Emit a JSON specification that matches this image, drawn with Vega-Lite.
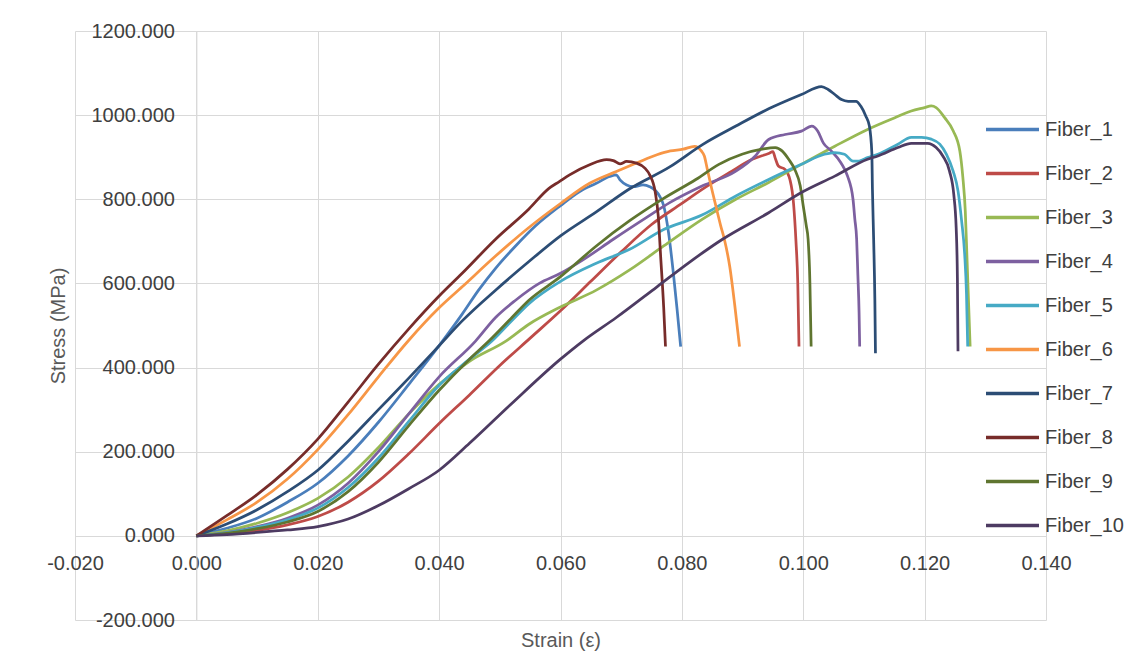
{
"$schema": "https://vega.github.io/schema/vega-lite/v6.json",
"width": 971, "height": 589,
"autosize": {"type": "none"},
"padding": {"left": 75, "top": 31, "right": 86, "bottom": 37},
"background": "white",
"config": {"view": {"stroke": null}, "font": "Liberation Sans"},
"data": {"values": [
{"fiber":"Fiber_1","strain":0,"stress":0},{"fiber":"Fiber_1","strain":0.005,"stress":18},{"fiber":"Fiber_1","strain":0.01,"stress":42},{"fiber":"Fiber_1","strain":0.015,"stress":80},{"fiber":"Fiber_1","strain":0.02,"stress":125},{"fiber":"Fiber_1","strain":0.025,"stress":190},{"fiber":"Fiber_1","strain":0.03,"stress":270},{"fiber":"Fiber_1","strain":0.035,"stress":360},{"fiber":"Fiber_1","strain":0.04,"stress":452},{"fiber":"Fiber_1","strain":0.0438,"stress":527},{"fiber":"Fiber_1","strain":0.0465,"stress":584},{"fiber":"Fiber_1","strain":0.0493,"stress":636},{"fiber":"Fiber_1","strain":0.0526,"stress":689},{"fiber":"Fiber_1","strain":0.0559,"stress":737},{"fiber":"Fiber_1","strain":0.06,"stress":785},{"fiber":"Fiber_1","strain":0.0631,"stress":818},{"fiber":"Fiber_1","strain":0.0659,"stress":838},{"fiber":"Fiber_1","strain":0.0681,"stress":854},{"fiber":"Fiber_1","strain":0.0692,"stress":858},{"fiber":"Fiber_1","strain":0.0698,"stress":846},{"fiber":"Fiber_1","strain":0.0709,"stress":834},{"fiber":"Fiber_1","strain":0.072,"stress":830},{"fiber":"Fiber_1","strain":0.0736,"stress":834},{"fiber":"Fiber_1","strain":0.0747,"stress":830},{"fiber":"Fiber_1","strain":0.0764,"stress":806},{"fiber":"Fiber_1","strain":0.077,"stress":785},{"fiber":"Fiber_1","strain":0.0778,"stress":721},{"fiber":"Fiber_1","strain":0.0786,"stress":624},{"fiber":"Fiber_1","strain":0.0792,"stress":540},{"fiber":"Fiber_1","strain":0.0798,"stress":450},
{"fiber":"Fiber_2","strain":0,"stress":0},{"fiber":"Fiber_2","strain":0.005,"stress":5},{"fiber":"Fiber_2","strain":0.01,"stress":13},{"fiber":"Fiber_2","strain":0.015,"stress":26},{"fiber":"Fiber_2","strain":0.02,"stress":46},{"fiber":"Fiber_2","strain":0.025,"stress":80},{"fiber":"Fiber_2","strain":0.03,"stress":130},{"fiber":"Fiber_2","strain":0.035,"stress":195},{"fiber":"Fiber_2","strain":0.04,"stress":267},{"fiber":"Fiber_2","strain":0.045,"stress":335},{"fiber":"Fiber_2","strain":0.05,"stress":405},{"fiber":"Fiber_2","strain":0.055,"stress":470},{"fiber":"Fiber_2","strain":0.06,"stress":535},{"fiber":"Fiber_2","strain":0.065,"stress":605},{"fiber":"Fiber_2","strain":0.07,"stress":675},{"fiber":"Fiber_2","strain":0.075,"stress":740},{"fiber":"Fiber_2","strain":0.08,"stress":790},{"fiber":"Fiber_2","strain":0.0834,"stress":824},{"fiber":"Fiber_2","strain":0.0878,"stress":863},{"fiber":"Fiber_2","strain":0.0916,"stress":895},{"fiber":"Fiber_2","strain":0.0943,"stress":909},{"fiber":"Fiber_2","strain":0.095,"stress":913},{"fiber":"Fiber_2","strain":0.0954,"stress":897},{"fiber":"Fiber_2","strain":0.0959,"stress":879},{"fiber":"Fiber_2","strain":0.097,"stress":871},{"fiber":"Fiber_2","strain":0.0978,"stress":847},{"fiber":"Fiber_2","strain":0.0984,"stress":790},{"fiber":"Fiber_2","strain":0.0988,"stress":700},{"fiber":"Fiber_2","strain":0.0991,"stress":600},{"fiber":"Fiber_2","strain":0.0993,"stress":450},
{"fiber":"Fiber_3","strain":0,"stress":0},{"fiber":"Fiber_3","strain":0.005,"stress":12},{"fiber":"Fiber_3","strain":0.01,"stress":30},{"fiber":"Fiber_3","strain":0.015,"stress":55},{"fiber":"Fiber_3","strain":0.02,"stress":89},{"fiber":"Fiber_3","strain":0.025,"stress":140},{"fiber":"Fiber_3","strain":0.03,"stress":210},{"fiber":"Fiber_3","strain":0.035,"stress":290},{"fiber":"Fiber_3","strain":0.04,"stress":360},{"fiber":"Fiber_3","strain":0.045,"stress":415},{"fiber":"Fiber_3","strain":0.051,"stress":463},{"fiber":"Fiber_3","strain":0.0548,"stress":503},{"fiber":"Fiber_3","strain":0.06,"stress":544},{"fiber":"Fiber_3","strain":0.0659,"stress":584},{"fiber":"Fiber_3","strain":0.0714,"stress":632},{"fiber":"Fiber_3","strain":0.077,"stress":689},{"fiber":"Fiber_3","strain":0.0834,"stress":753},{"fiber":"Fiber_3","strain":0.0889,"stress":800},{"fiber":"Fiber_3","strain":0.0943,"stress":840},{"fiber":"Fiber_3","strain":0.0997,"stress":883},{"fiber":"Fiber_3","strain":0.1052,"stress":926},{"fiber":"Fiber_3","strain":0.1106,"stress":966},{"fiber":"Fiber_3","strain":0.1151,"stress":994},{"fiber":"Fiber_3","strain":0.1178,"stress":1010},{"fiber":"Fiber_3","strain":0.12,"stress":1018},{"fiber":"Fiber_3","strain":0.1211,"stress":1022},{"fiber":"Fiber_3","strain":0.1219,"stress":1018},{"fiber":"Fiber_3","strain":0.1233,"stress":994},{"fiber":"Fiber_3","strain":0.1247,"stress":963},{"fiber":"Fiber_3","strain":0.1258,"stress":915},{"fiber":"Fiber_3","strain":0.1263,"stress":852},{"fiber":"Fiber_3","strain":0.1267,"stress":772},{"fiber":"Fiber_3","strain":0.127,"stress":653},{"fiber":"Fiber_3","strain":0.1273,"stress":530},{"fiber":"Fiber_3","strain":0.1275,"stress":450},
{"fiber":"Fiber_4","strain":0,"stress":0},{"fiber":"Fiber_4","strain":0.005,"stress":8},{"fiber":"Fiber_4","strain":0.01,"stress":22},{"fiber":"Fiber_4","strain":0.015,"stress":42},{"fiber":"Fiber_4","strain":0.02,"stress":73},{"fiber":"Fiber_4","strain":0.025,"stress":125},{"fiber":"Fiber_4","strain":0.03,"stress":200},{"fiber":"Fiber_4","strain":0.035,"stress":290},{"fiber":"Fiber_4","strain":0.04,"stress":378},{"fiber":"Fiber_4","strain":0.046,"stress":463},{"fiber":"Fiber_4","strain":0.0493,"stress":519},{"fiber":"Fiber_4","strain":0.0526,"stress":560},{"fiber":"Fiber_4","strain":0.0565,"stress":600},{"fiber":"Fiber_4","strain":0.06,"stress":624},{"fiber":"Fiber_4","strain":0.0637,"stress":656},{"fiber":"Fiber_4","strain":0.0687,"stress":705},{"fiber":"Fiber_4","strain":0.0742,"stress":757},{"fiber":"Fiber_4","strain":0.078,"stress":792},{"fiber":"Fiber_4","strain":0.0834,"stress":832},{"fiber":"Fiber_4","strain":0.0889,"stress":867},{"fiber":"Fiber_4","strain":0.0921,"stress":903},{"fiber":"Fiber_4","strain":0.0943,"stress":942},{"fiber":"Fiber_4","strain":0.097,"stress":954},{"fiber":"Fiber_4","strain":0.0997,"stress":962},{"fiber":"Fiber_4","strain":0.1014,"stress":974},{"fiber":"Fiber_4","strain":0.1024,"stress":962},{"fiber":"Fiber_4","strain":0.1033,"stress":934},{"fiber":"Fiber_4","strain":0.1046,"stress":915},{"fiber":"Fiber_4","strain":0.1062,"stress":887},{"fiber":"Fiber_4","strain":0.1073,"stress":855},{"fiber":"Fiber_4","strain":0.1082,"stress":800},{"fiber":"Fiber_4","strain":0.1085,"stress":753},{"fiber":"Fiber_4","strain":0.1088,"stress":705},{"fiber":"Fiber_4","strain":0.109,"stress":620},{"fiber":"Fiber_4","strain":0.1092,"stress":530},{"fiber":"Fiber_4","strain":0.1093,"stress":450},
{"fiber":"Fiber_5","strain":0,"stress":0},{"fiber":"Fiber_5","strain":0.005,"stress":7},{"fiber":"Fiber_5","strain":0.01,"stress":20},{"fiber":"Fiber_5","strain":0.015,"stress":38},{"fiber":"Fiber_5","strain":0.02,"stress":66},{"fiber":"Fiber_5","strain":0.025,"stress":115},{"fiber":"Fiber_5","strain":0.03,"stress":185},{"fiber":"Fiber_5","strain":0.035,"stress":272},{"fiber":"Fiber_5","strain":0.04,"stress":358},{"fiber":"Fiber_5","strain":0.045,"stress":420},{"fiber":"Fiber_5","strain":0.0487,"stress":463},{"fiber":"Fiber_5","strain":0.052,"stress":512},{"fiber":"Fiber_5","strain":0.0548,"stress":552},{"fiber":"Fiber_5","strain":0.06,"stress":605},{"fiber":"Fiber_5","strain":0.0659,"stress":648},{"fiber":"Fiber_5","strain":0.0714,"stress":681},{"fiber":"Fiber_5","strain":0.077,"stress":728},{"fiber":"Fiber_5","strain":0.0834,"stress":763},{"fiber":"Fiber_5","strain":0.0889,"stress":808},{"fiber":"Fiber_5","strain":0.0943,"stress":847},{"fiber":"Fiber_5","strain":0.0997,"stress":883},{"fiber":"Fiber_5","strain":0.1035,"stress":907},{"fiber":"Fiber_5","strain":0.1052,"stress":911},{"fiber":"Fiber_5","strain":0.1068,"stress":907},{"fiber":"Fiber_5","strain":0.1082,"stress":891},{"fiber":"Fiber_5","strain":0.1092,"stress":891},{"fiber":"Fiber_5","strain":0.1106,"stress":899},{"fiber":"Fiber_5","strain":0.1123,"stress":907},{"fiber":"Fiber_5","strain":0.1156,"stress":931},{"fiber":"Fiber_5","strain":0.1178,"stress":947},{"fiber":"Fiber_5","strain":0.1195,"stress":947},{"fiber":"Fiber_5","strain":0.1211,"stress":943},{"fiber":"Fiber_5","strain":0.1225,"stress":931},{"fiber":"Fiber_5","strain":0.1236,"stress":907},{"fiber":"Fiber_5","strain":0.1247,"stress":867},{"fiber":"Fiber_5","strain":0.1255,"stress":820},{"fiber":"Fiber_5","strain":0.1261,"stress":748},{"fiber":"Fiber_5","strain":0.1266,"stress":669},{"fiber":"Fiber_5","strain":0.1269,"stress":574},{"fiber":"Fiber_5","strain":0.1271,"stress":450},
{"fiber":"Fiber_6","strain":0,"stress":0},{"fiber":"Fiber_6","strain":0.005,"stress":38},{"fiber":"Fiber_6","strain":0.01,"stress":80},{"fiber":"Fiber_6","strain":0.015,"stress":135},{"fiber":"Fiber_6","strain":0.02,"stress":205},{"fiber":"Fiber_6","strain":0.025,"stress":288},{"fiber":"Fiber_6","strain":0.03,"stress":378},{"fiber":"Fiber_6","strain":0.035,"stress":465},{"fiber":"Fiber_6","strain":0.04,"stress":542},{"fiber":"Fiber_6","strain":0.0438,"stress":592},{"fiber":"Fiber_6","strain":0.0493,"stress":665},{"fiber":"Fiber_6","strain":0.0548,"stress":733},{"fiber":"Fiber_6","strain":0.06,"stress":790},{"fiber":"Fiber_6","strain":0.0648,"stress":838},{"fiber":"Fiber_6","strain":0.0692,"stress":866},{"fiber":"Fiber_6","strain":0.0725,"stress":886},{"fiber":"Fiber_6","strain":0.0759,"stress":906},{"fiber":"Fiber_6","strain":0.0781,"stress":915},{"fiber":"Fiber_6","strain":0.0802,"stress":919},{"fiber":"Fiber_6","strain":0.0821,"stress":926},{"fiber":"Fiber_6","strain":0.0832,"stress":915},{"fiber":"Fiber_6","strain":0.0837,"stress":903},{"fiber":"Fiber_6","strain":0.0842,"stress":871},{"fiber":"Fiber_6","strain":0.0848,"stress":832},{"fiber":"Fiber_6","strain":0.0856,"stress":784},{"fiber":"Fiber_6","strain":0.0864,"stress":737},{"fiber":"Fiber_6","strain":0.087,"stress":705},{"fiber":"Fiber_6","strain":0.0879,"stress":639},{"fiber":"Fiber_6","strain":0.0887,"stress":550},{"fiber":"Fiber_6","strain":0.0895,"stress":450},
{"fiber":"Fiber_7","strain":0,"stress":0},{"fiber":"Fiber_7","strain":0.005,"stress":28},{"fiber":"Fiber_7","strain":0.01,"stress":62},{"fiber":"Fiber_7","strain":0.015,"stress":105},{"fiber":"Fiber_7","strain":0.02,"stress":156},{"fiber":"Fiber_7","strain":0.025,"stress":225},{"fiber":"Fiber_7","strain":0.03,"stress":300},{"fiber":"Fiber_7","strain":0.035,"stress":375},{"fiber":"Fiber_7","strain":0.04,"stress":452},{"fiber":"Fiber_7","strain":0.0438,"stress":511},{"fiber":"Fiber_7","strain":0.0493,"stress":584},{"fiber":"Fiber_7","strain":0.0548,"stress":652},{"fiber":"Fiber_7","strain":0.06,"stress":713},{"fiber":"Fiber_7","strain":0.0659,"stress":770},{"fiber":"Fiber_7","strain":0.0714,"stress":825},{"fiber":"Fiber_7","strain":0.078,"stress":877},{"fiber":"Fiber_7","strain":0.0834,"stress":930},{"fiber":"Fiber_7","strain":0.0889,"stress":974},{"fiber":"Fiber_7","strain":0.0943,"stress":1015},{"fiber":"Fiber_7","strain":0.0997,"stress":1049},{"fiber":"Fiber_7","strain":0.103,"stress":1068},{"fiber":"Fiber_7","strain":0.1041,"stress":1061},{"fiber":"Fiber_7","strain":0.1052,"stress":1049},{"fiber":"Fiber_7","strain":0.1063,"stress":1037},{"fiber":"Fiber_7","strain":0.1074,"stress":1033},{"fiber":"Fiber_7","strain":0.1087,"stress":1033},{"fiber":"Fiber_7","strain":0.1095,"stress":1021},{"fiber":"Fiber_7","strain":0.1103,"stress":998},{"fiber":"Fiber_7","strain":0.1109,"stress":974},{"fiber":"Fiber_7","strain":0.1113,"stress":911},{"fiber":"Fiber_7","strain":0.1114,"stress":824},{"fiber":"Fiber_7","strain":0.1116,"stress":705},{"fiber":"Fiber_7","strain":0.1118,"stress":560},{"fiber":"Fiber_7","strain":0.1119,"stress":434},
{"fiber":"Fiber_8","strain":0,"stress":0},{"fiber":"Fiber_8","strain":0.005,"stress":48},{"fiber":"Fiber_8","strain":0.01,"stress":98},{"fiber":"Fiber_8","strain":0.015,"stress":158},{"fiber":"Fiber_8","strain":0.02,"stress":230},{"fiber":"Fiber_8","strain":0.025,"stress":318},{"fiber":"Fiber_8","strain":0.03,"stress":408},{"fiber":"Fiber_8","strain":0.035,"stress":492},{"fiber":"Fiber_8","strain":0.04,"stress":570},{"fiber":"Fiber_8","strain":0.0438,"stress":624},{"fiber":"Fiber_8","strain":0.0493,"stress":705},{"fiber":"Fiber_8","strain":0.0548,"stress":777},{"fiber":"Fiber_8","strain":0.0581,"stress":826},{"fiber":"Fiber_8","strain":0.0598,"stress":842},{"fiber":"Fiber_8","strain":0.0615,"stress":858},{"fiber":"Fiber_8","strain":0.0648,"stress":882},{"fiber":"Fiber_8","strain":0.0676,"stress":894},{"fiber":"Fiber_8","strain":0.0687,"stress":892},{"fiber":"Fiber_8","strain":0.0698,"stress":884},{"fiber":"Fiber_8","strain":0.0709,"stress":890},{"fiber":"Fiber_8","strain":0.0725,"stress":886},{"fiber":"Fiber_8","strain":0.0739,"stress":874},{"fiber":"Fiber_8","strain":0.0747,"stress":858},{"fiber":"Fiber_8","strain":0.0756,"stress":818},{"fiber":"Fiber_8","strain":0.0761,"stress":761},{"fiber":"Fiber_8","strain":0.0765,"stress":665},{"fiber":"Fiber_8","strain":0.077,"stress":544},{"fiber":"Fiber_8","strain":0.0773,"stress":450},
{"fiber":"Fiber_9","strain":0,"stress":0},{"fiber":"Fiber_9","strain":0.005,"stress":6},{"fiber":"Fiber_9","strain":0.01,"stress":17},{"fiber":"Fiber_9","strain":0.015,"stress":33},{"fiber":"Fiber_9","strain":0.02,"stress":58},{"fiber":"Fiber_9","strain":0.025,"stress":105},{"fiber":"Fiber_9","strain":0.03,"stress":175},{"fiber":"Fiber_9","strain":0.035,"stress":262},{"fiber":"Fiber_9","strain":0.04,"stress":346},{"fiber":"Fiber_9","strain":0.045,"stress":420},{"fiber":"Fiber_9","strain":0.0482,"stress":463},{"fiber":"Fiber_9","strain":0.052,"stress":519},{"fiber":"Fiber_9","strain":0.0548,"stress":560},{"fiber":"Fiber_9","strain":0.06,"stress":616},{"fiber":"Fiber_9","strain":0.0659,"stress":689},{"fiber":"Fiber_9","strain":0.0714,"stress":749},{"fiber":"Fiber_9","strain":0.077,"stress":802},{"fiber":"Fiber_9","strain":0.0823,"stress":847},{"fiber":"Fiber_9","strain":0.0861,"stress":883},{"fiber":"Fiber_9","strain":0.0899,"stress":907},{"fiber":"Fiber_9","strain":0.0932,"stress":919},{"fiber":"Fiber_9","strain":0.0954,"stress":923},{"fiber":"Fiber_9","strain":0.0965,"stress":915},{"fiber":"Fiber_9","strain":0.0976,"stress":895},{"fiber":"Fiber_9","strain":0.0986,"stress":871},{"fiber":"Fiber_9","strain":0.0995,"stress":832},{"fiber":"Fiber_9","strain":0.1,"stress":784},{"fiber":"Fiber_9","strain":0.1005,"stress":737},{"fiber":"Fiber_9","strain":0.1008,"stress":705},{"fiber":"Fiber_9","strain":0.1011,"stress":600},{"fiber":"Fiber_9","strain":0.1013,"stress":450},
{"fiber":"Fiber_10","strain":0,"stress":0},{"fiber":"Fiber_10","strain":0.005,"stress":3},{"fiber":"Fiber_10","strain":0.01,"stress":8},{"fiber":"Fiber_10","strain":0.015,"stress":14},{"fiber":"Fiber_10","strain":0.02,"stress":22},{"fiber":"Fiber_10","strain":0.025,"stress":40},{"fiber":"Fiber_10","strain":0.03,"stress":72},{"fiber":"Fiber_10","strain":0.035,"stress":112},{"fiber":"Fiber_10","strain":0.04,"stress":156},{"fiber":"Fiber_10","strain":0.045,"stress":220},{"fiber":"Fiber_10","strain":0.0517,"stress":311},{"fiber":"Fiber_10","strain":0.06,"stress":420},{"fiber":"Fiber_10","strain":0.0637,"stress":463},{"fiber":"Fiber_10","strain":0.0692,"stress":519},{"fiber":"Fiber_10","strain":0.0759,"stress":592},{"fiber":"Fiber_10","strain":0.0814,"stress":652},{"fiber":"Fiber_10","strain":0.0867,"stress":705},{"fiber":"Fiber_10","strain":0.0943,"stress":768},{"fiber":"Fiber_10","strain":0.0997,"stress":816},{"fiber":"Fiber_10","strain":0.1052,"stress":855},{"fiber":"Fiber_10","strain":0.1106,"stress":895},{"fiber":"Fiber_10","strain":0.1123,"stress":903},{"fiber":"Fiber_10","strain":0.1156,"stress":923},{"fiber":"Fiber_10","strain":0.1178,"stress":933},{"fiber":"Fiber_10","strain":0.1205,"stress":933},{"fiber":"Fiber_10","strain":0.1219,"stress":923},{"fiber":"Fiber_10","strain":0.123,"stress":903},{"fiber":"Fiber_10","strain":0.1241,"stress":867},{"fiber":"Fiber_10","strain":0.1248,"stress":812},{"fiber":"Fiber_10","strain":0.1252,"stress":732},{"fiber":"Fiber_10","strain":0.1254,"stress":613},{"fiber":"Fiber_10","strain":0.1255,"stress":439}
]},
"mark": {"type": "line", "strokeWidth": 2.75, "interpolate": "monotone"},
"encoding": {
 "x": {"field": "strain", "type": "quantitative",
  "scale": {"domain": [-0.02, 0.14], "nice": false, "zero": false},
  "axis": {"title": "Strain (ε)", "values": [-0.02, 0, 0.02, 0.04, 0.06, 0.08, 0.1, 0.12, 0.14],
   "offset": -84, "labelExpr": "replace(format(datum.value, '.3f'), '\u2212', '-')",
   "labelFlush": false, "labelOverlap": false, "labelPadding": 17, "labelFontSize": 20, "labelColor": "#404040",
   "labelFont": "Liberation Sans", "ticks": false, "domainColor": "#d9d9d9", "gridColor": "#d9d9d9",
   "titleFontSize": 20, "titleFontWeight": "normal", "titleColor": "#595959", "titleFont": "Liberation Sans",
   "titleY": 104, "titleBaseline": "middle"}},
 "y": {"field": "stress", "type": "quantitative",
  "scale": {"domain": [-200, 1200], "nice": false, "zero": false},
  "axis": {"title": "Stress (MPa)", "values": [-200, 0, 200, 400, 600, 800, 1000, 1200],
   "offset": -121.4, "labelExpr": "replace(format(datum.value, '.3f'), '\u2212', '-')",
   "labelFlush": false, "labelOverlap": false, "labelPadding": 22, "labelFontSize": 20, "labelColor": "#404040",
   "labelFont": "Liberation Sans", "ticks": false, "domainColor": "#d9d9d9", "gridColor": "#d9d9d9",
   "titleFontSize": 20, "titleFontWeight": "normal", "titleColor": "#595959", "titleFont": "Liberation Sans",
   "titleX": -138, "titleBaseline": "middle"}},
 "color": {"field": "fiber", "type": "nominal",
  "scale": {"domain": ["Fiber_1","Fiber_2","Fiber_3","Fiber_4","Fiber_5","Fiber_6","Fiber_7","Fiber_8","Fiber_9","Fiber_10"],
   "range": ["#4a7ebb","#be4b48","#98b954","#7d60a0","#46aac5","#f79646","#2c4d75","#772c2a","#5f7530","#4d3b62"]},
  "legend": {"orient": "none", "legendX": 909, "legendY": 70, "title": null, "padding": 0,
   "symbolType": "stroke", "symbolSize": 2809, "symbolStrokeWidth": 3.5,
   "labelFontSize": 20, "labelColor": "#404040", "labelFont": "Liberation Sans", "labelOffset": 4, "rowPadding": 5}}
}
}
